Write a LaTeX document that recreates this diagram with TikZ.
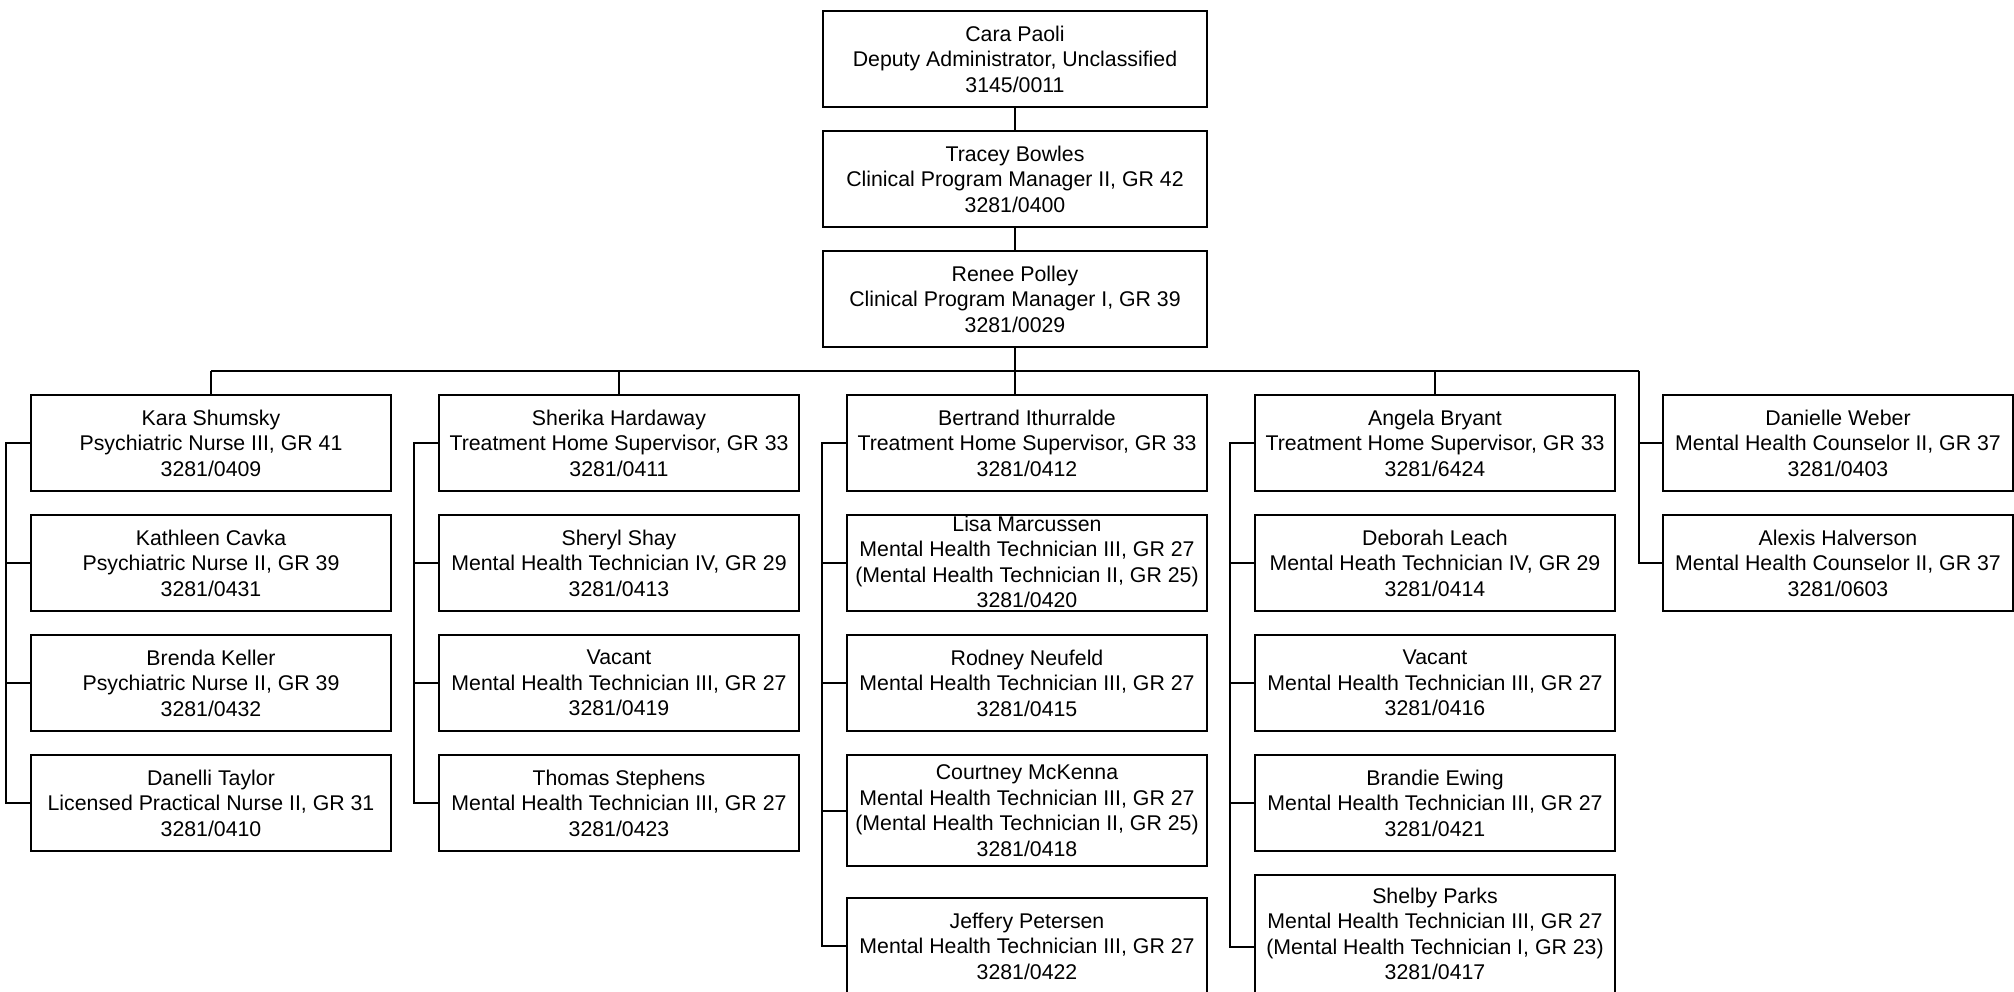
\documentclass[tikz,border=0pt]{standalone}
\usepackage{fontspec}
\setmainfont{Liberation Sans}
\tikzset{
  box/.style={draw, line width=1pt, minimum width=180pt, minimum height=48pt, inner sep=0pt, align=center, font=\fontsize{10.65pt}{12.75pt}\selectfont},
  txt/.style={inner sep=0pt, align=center, font=\fontsize{10.65pt}{12.75pt}\selectfont},
  wide/.style={minimum width=192pt},
  narrow/.style={minimum width=175pt},
  link/.style={line width=1pt},
}
\begin{document}
\begin{tikzpicture}[x=0.5pt,y=-0.5pt]
\useasboundingbox (0,0) rectangle (2014,991);
% top chain
\node[box,wide] (cara) at (1015,59) {Cara Paoli\\Deputy Administrator, Unclassified\\3145/0011};
\node[box,wide] (tracey) at (1015,179) {Tracey Bowles\\Clinical Program Manager II, GR 42\\3281/0400};
\node[box,wide] (renee) at (1015,299) {Renee Polley\\Clinical Program Manager I, GR 39\\3281/0029};
% column 1
\node[box] (kara) at (211,443) {Kara Shumsky\\Psychiatric Nurse III, GR 41\\3281/0409};
\node[box] (kathleen) at (211,563) {Kathleen Cavka\\Psychiatric Nurse II, GR 39\\3281/0431};
\node[box] (brenda) at (211,683) {Brenda Keller\\Psychiatric Nurse II, GR 39\\3281/0432};
\node[box] (danelli) at (211,803) {Danelli Taylor\\Licensed Practical Nurse II, GR 31\\3281/0410};
% column 2
\node[box] (sherika) at (619,443) {Sherika Hardaway\\Treatment Home Supervisor, GR 33\\3281/0411};
\node[box] (sheryl) at (619,563) {Sheryl Shay\\Mental Health Technician IV, GR 29\\3281/0413};
\node[box] (vacanta) at (619,683) {Vacant\\Mental Health Technician III, GR 27\\3281/0419};
\node[box] (thomas) at (619,803) {Thomas Stephens\\Mental Health Technician III, GR 27\\3281/0423};
% column 3
\node[box] (bertrand) at (1027,443) {Bertrand Ithurralde\\Treatment Home Supervisor, GR 33\\3281/0412};
\node[box] (lisa) at (1027,563) {};
\node[txt] (lisatext) at (1027,562) {Lisa Marcussen\\Mental Health Technician III, GR 27\\(Mental Health Technician II, GR 25)\\3281/0420};
\node[box] (rodney) at (1027,683) {Rodney Neufeld\\Mental Health Technician III, GR 27\\3281/0415};
\node[box,minimum height=55.5pt] (courtney) at (1027,810.5) {Courtney McKenna\\Mental Health Technician III, GR 27\\(Mental Health Technician II, GR 25)\\3281/0418};
\node[box] (jeffery) at (1027,946) {Jeffery Petersen\\Mental Health Technician III, GR 27\\3281/0422};
% column 4
\node[box] (angela) at (1435,443) {Angela Bryant\\Treatment Home Supervisor, GR 33\\3281/6424};
\node[box] (deborah) at (1435,563) {Deborah Leach\\Mental Heath Technician IV, GR 29\\3281/0414};
\node[box] (vacantb) at (1435,683) {Vacant\\Mental Health Technician III, GR 27\\3281/0416};
\node[box] (brandie) at (1435,803) {Brandie Ewing\\Mental Health Technician III, GR 27\\3281/0421};
\node[box,minimum height=72pt] (shelby) at (1435,947) {};
\node[txt] (shelbytext) at (1435,934) {Shelby Parks\\Mental Health Technician III, GR 27\\(Mental Health Technician I, GR 23)\\3281/0417};
% column 5
\node[box,narrow] (danielle) at (1838,443) {Danielle Weber\\Mental Health Counselor II, GR 37\\3281/0403};
\node[box,narrow] (alexis) at (1838,563) {Alexis Halverson\\Mental Health Counselor II, GR 37\\3281/0603};
% connectors
\coordinate (busL) at (211,371);
\coordinate (busR) at (1639,371);
\draw[link] (cara) -- (tracey);
\draw[link] (tracey) -- (renee);
\draw[link] (renee) -- (renee |- bertrand.north);
\draw[link] (busL) -- (busR);
\draw[link] (busL) -- (kara.north);
\draw[link] (sherika.north |- busL) -- (sherika.north);
\draw[link] (angela.north |- busL) -- (angela.north);
% column brackets
\draw[link] (kara.west) -- ++(-24,0) |- (danelli.west);
\draw[link] (kathleen.west) -- ++(-24,0);
\draw[link] (brenda.west) -- ++(-24,0);
\draw[link] (sherika.west) -- ++(-24,0) |- (thomas.west);
\draw[link] (sheryl.west) -- ++(-24,0);
\draw[link] (vacanta.west) -- ++(-24,0);
\draw[link] (bertrand.west) -- ++(-24,0) |- (jeffery.west);
\draw[link] (lisa.west) -- ++(-24,0);
\draw[link] (rodney.west) -- ++(-24,0);
\draw[link] (courtney.west) -- ++(-24,0);
\draw[link] (angela.west) -- ++(-24,0) |- (shelby.west);
\draw[link] (deborah.west) -- ++(-24,0);
\draw[link] (vacantb.west) -- ++(-24,0);
\draw[link] (brandie.west) -- ++(-24,0);
\draw[link] (busR) |- (alexis.west);
\draw[link] (danielle.west) -- (danielle.west -| busR);
\end{tikzpicture}
\end{document}
